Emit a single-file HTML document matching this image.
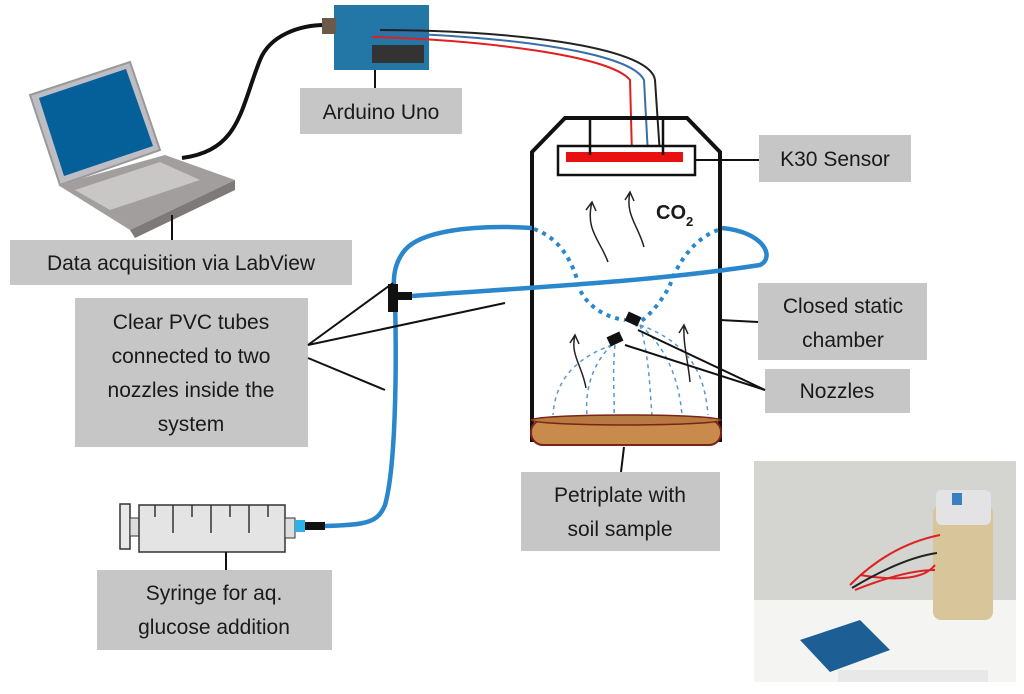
<!DOCTYPE html>
<html><head><meta charset="utf-8"><style>
html,body{margin:0;padding:0;background:#fff;width:1024px;height:694px;overflow:hidden}
svg{display:block}
text{font-family:"Liberation Sans",sans-serif;font-size:21px;fill:#1a1a1a}
.b{fill:#c6c6c6}
</style></head><body>
<svg width="1024" height="694" viewBox="0 0 1024 694" xmlns="http://www.w3.org/2000/svg">
<!-- photo -->
<rect x="754" y="461" width="262" height="221" fill="#d4d4d0"/>
<rect x="754" y="600" width="262" height="82" fill="#f4f4f2"/>
<rect x="933" y="505" width="60" height="115" rx="8" fill="#d8c59a"/>
<rect x="936" y="490" width="55" height="35" rx="6" fill="#e3e3e6"/>
<rect x="952" y="493" width="10" height="12" fill="#3a7fc0"/>
<path d="M850 585 q40 -40 90 -50 M855 590 q50 -20 80 -20 M860 575 q60 10 75 -10" stroke="#d22" stroke-width="2" fill="none"/>
<path d="M852 588 q50 -30 85 -35" stroke="#222" stroke-width="2" fill="none"/>
<polygon points="800,640 860,620 890,650 830,672" fill="#1d5e95"/>
<rect x="838" y="670" width="150" height="12" fill="#e8e8e8"/>
<!-- laptop -->
<polygon points="30,95 130,62 160,150 60,185" fill="#bdbdc3" stroke="#999" stroke-width="2"/>
<polygon points="39,98 126,69 153,146 64,176" fill="#05609a"/>
<polygon points="58,185 165,155 235,180 130,230" fill="#a39e9e"/>
<polygon points="130,230 235,180 235,190 135,238" fill="#7f7a7a"/>
<polygon points="75,190 160,162 200,180 110,210" fill="#c9c6c6"/>
<path d="M182 158 C240 150 240 110 260 60 C270 35 300 25 325 25" stroke="#111" stroke-width="4" fill="none"/>
<line x1="172" y1="215" x2="172" y2="240" stroke="#111" stroke-width="2"/>
<!-- arduino -->
<rect x="334" y="5" width="95" height="65" fill="#2377a6"/>
<rect x="322" y="18" width="14" height="16" fill="#6b5a4a"/>
<rect x="372" y="45" width="52" height="18" fill="#333"/>
<line x1="375" y1="70" x2="375" y2="88" stroke="#111" stroke-width="2"/>
<!-- wires -->
<path d="M372 37 C480 40 610 55 630 80 L632 155" stroke="#e02020" stroke-width="2" fill="none"/>
<path d="M378 33 C490 35 630 50 644 80 L648 155" stroke="#3a6ea8" stroke-width="2" fill="none"/>
<path d="M380 30 C500 30 650 45 655 80 L660 155" stroke="#222" stroke-width="2" fill="none"/>
<!-- boxes -->
<rect class="b" x="300" y="88" width="162" height="46"/><text x="381" y="119" text-anchor="middle">Arduino Uno</text>
<rect class="b" x="10" y="240" width="342" height="45"/><text x="181" y="270" text-anchor="middle">Data acquisition via LabView</text>
<rect class="b" x="759" y="135" width="152" height="47"/><text x="835" y="166" text-anchor="middle">K30 Sensor</text>
<rect class="b" x="758" y="283" width="169" height="77"/><text x="843" y="313" text-anchor="middle">Closed static</text><text x="843" y="347" text-anchor="middle">chamber</text>
<rect class="b" x="765" y="369" width="145" height="44"/><text x="837" y="398" text-anchor="middle">Nozzles</text>
<rect class="b" x="75" y="298" width="233" height="149"/>
<text x="191" y="329" text-anchor="middle">Clear PVC tubes</text><text x="191" y="363" text-anchor="middle">connected to two</text><text x="191" y="397" text-anchor="middle">nozzles inside the</text><text x="191" y="431" text-anchor="middle">system</text>
<rect class="b" x="521" y="472" width="199" height="79"/><text x="620" y="502" text-anchor="middle">Petriplate with</text><text x="620" y="536" text-anchor="middle">soil sample</text>
<rect class="b" x="97" y="570" width="235" height="80"/><text x="214" y="600" text-anchor="middle">Syringe for aq.</text><text x="214" y="634" text-anchor="middle">glucose addition</text>
<!-- chamber -->
<polygon points="532,440 532,152 565,118 687,118 720,152 720,440" fill="none" stroke="#111" stroke-width="4"/>
<rect x="558" y="146" width="137" height="29" fill="#fff" stroke="#111" stroke-width="2.5"/>
<rect x="566" y="152" width="117" height="10" fill="#e81010"/>
<path d="M590 118 V155 M663 118 V155" stroke="#111" stroke-width="2.5"/>
<line x1="695" y1="160" x2="759" y2="160" stroke="#111" stroke-width="2"/>
<line x1="720" y1="320" x2="758" y2="322" stroke="#111" stroke-width="2"/>
<!-- arrows -->
<g stroke="#222" stroke-width="1.5" fill="none">
<path d="M608 262 C600 240 585 230 592 202 M586 210 l6 -8 l4 9"/>
<path d="M644 247 C638 225 625 215 630 192 M625 200 l5 -8 l4 9"/>
<path d="M586 388 C582 365 570 355 575 335 M570 343 l5 -8 l4 9"/>
<path d="M690 382 C688 360 683 345 684 325 M679 333 l5 -8 l4 9"/>
</g>
<text x="656" y="219" style="font-weight:bold;font-size:20px">CO</text><text x="686" y="226" style="font-weight:bold;font-size:13px">2</text>
<!-- spray -->
<g stroke="#5a97cf" stroke-width="1.5" fill="none" stroke-dasharray="4,4">
<path d="M612 345 C570 360 555 385 553 415"/>
<path d="M612 345 C590 365 585 395 587 415"/>
<path d="M615 345 C612 375 615 400 614 415"/>
<path d="M640 325 C650 360 650 395 652 415"/>
<path d="M640 325 C675 355 680 395 682 415"/>
<path d="M640 325 C695 345 705 380 708 415"/>
</g>
<!-- petri -->
<rect x="531" y="420" width="190" height="25" rx="12" fill="#c98b4c" stroke="#7a2418" stroke-width="2"/>
<ellipse cx="626" cy="420" rx="95" ry="5" fill="#b77a40" stroke="#7a2418" stroke-width="1.5"/>
<line x1="624" y1="447" x2="621" y2="472" stroke="#111" stroke-width="2"/>
<!-- tubes -->
<g stroke="#2a87cc" stroke-width="4.5" fill="none">
<path d="M532 228 C470 224 420 232 405 250 C395 262 393 275 394 292"/>
<path d="M412 296 C520 288 650 282 760 265 C775 258 765 232 722 228"/>
<path d="M395 300 C397 380 395 470 385 505 C378 522 368 525 325 526"/>
</g>
<g stroke="#2a87cc" stroke-width="4" fill="none" stroke-dasharray="4,5">
<path d="M534 229 C565 240 575 270 580 290 C590 310 610 318 625 320"/>
<path d="M718 230 C690 240 675 270 670 285 C660 305 645 320 635 325"/>
</g>
<rect x="388" y="284" width="10" height="28" fill="#111"/>
<rect x="396" y="292" width="16" height="8" fill="#111"/>
<rect x="626" y="314" width="14" height="10" fill="#111" transform="rotate(25 633 319)"/>
<rect x="608" y="334" width="14" height="10" fill="#111" transform="rotate(-25 615 339)"/>
<g stroke="#111" stroke-width="2">
<line x1="638" y1="330" x2="765" y2="390"/><line x1="625" y1="345" x2="765" y2="390"/>
<line x1="308" y1="345" x2="393" y2="283"/><line x1="308" y1="345" x2="505" y2="303"/><line x1="308" y1="358" x2="385" y2="390"/>
</g>
<!-- syringe -->
<rect x="120" y="504" width="10" height="45" fill="#e8e8e8" stroke="#333" stroke-width="1.5"/>
<rect x="130" y="518" width="10" height="18" fill="#ddd" stroke="#333" stroke-width="1"/>
<rect x="139" y="505" width="146" height="47" fill="#e4e4e4" stroke="#333" stroke-width="1.5"/>
<path d="M155 505 v12 M173 505 v28 M192 505 v12 M211 505 v28 M230 505 v12 M249 505 v28 M268 505 v12" stroke="#333" stroke-width="1.5"/>
<rect x="285" y="518" width="10" height="20" fill="#ddd" stroke="#333" stroke-width="1"/>
<rect x="295" y="520" width="10" height="12" fill="#2eb0e8"/>
<rect x="305" y="522" width="20" height="8" fill="#111"/>
<line x1="226" y1="552" x2="226" y2="570" stroke="#111" stroke-width="2"/>
</svg>
</body></html>
